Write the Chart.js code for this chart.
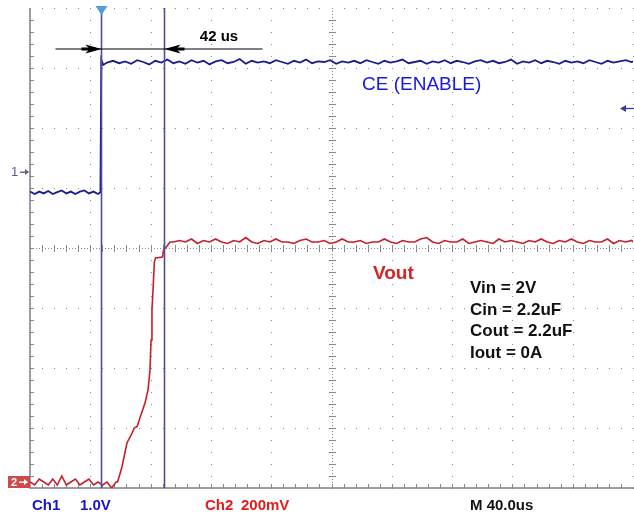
<!DOCTYPE html>
<html>
<head>
<meta charset="utf-8">
<script src="https://cdn.jsdelivr.net/npm/chart.js@4.4.0/dist/chart.umd.min.js"></script>
<style>
  html, body { margin: 0; padding: 0; background: #fff; }
  canvas { display: block; }
</style>
</head>
<body>
<canvas id="scope" width="634" height="517"></canvas>
<script>
// time base: 40 us/div, trigger (t = 0) at the first cursor
const timeMin = -47.1;
const timeMax = 352.9;
const cursorTimes = [0, 42];
const triggerLevel = 1.07;

// Ch1 = CE (ENABLE), 1.0 V/div
const ch1Time = [-47, -44, -41, -38, -35, -32, -29, -26, -23, -20, -17, -14, -11, -8, -5, -2, -0.4, 0.2, 1.5,
  4, 8, 12, 16, 20, 24, 28, 32, 36, 40, 44, 48, 52, 56, 60, 64, 68, 72, 76, 80, 84, 88, 92, 96, 100,
  104, 108, 112, 116, 120, 124, 128, 132, 136, 140, 144, 148, 152, 156, 160, 164, 168, 172, 176, 180,
  184, 188, 192, 196, 200, 204, 208, 212, 216, 220, 224, 228, 232, 236, 240, 244, 248, 252, 256, 260,
  264, 268, 272, 276, 280, 284, 288, 292, 296, 300, 304, 308, 312, 316, 320, 324, 328, 332, 336, 340,
  344, 348, 352, 353];
const ch1Volts = [-0.33, -0.37, -0.33, -0.36, -0.32, -0.37, -0.34, -0.31, -0.36, -0.33, -0.37, -0.33, -0.31, -0.36, -0.33, -0.37, -0.34, 1.87, 1.78,
  1.82, 1.85, 1.81, 1.84, 1.80, 1.86, 1.83, 1.79, 1.85, 1.82,
  1.87, 1.81, 1.84, 1.80, 1.86, 1.82, 1.85, 1.79, 1.84, 1.86,
  1.81, 1.83, 1.88, 1.80, 1.85, 1.82, 1.84, 1.81, 1.86, 1.83,
  1.80, 1.85, 1.82, 1.87, 1.81, 1.84, 1.83, 1.86, 1.80, 1.84,
  1.82, 1.85, 1.81, 1.86, 1.83, 1.80, 1.85, 1.82, 1.84, 1.87,
  1.81, 1.83, 1.85, 1.80, 1.84, 1.82, 1.86, 1.81, 1.85, 1.83,
  1.80, 1.84, 1.86, 1.82, 1.85, 1.81, 1.83, 1.87, 1.80, 1.84,
  1.82, 1.86, 1.81, 1.85, 1.83, 1.80, 1.85, 1.82, 1.84, 1.81,
  1.86, 1.83, 1.80, 1.85, 1.82, 1.84, 1.86, 1.83, 1.84];

// Ch2 = Vout, 200 mV/div
const ch2Time = [-47, -44, -41, -38, -35, -32, -29, -26, -23, -20, -17, -14, -11, -8, -5, -2, 1, 4, 7, 10,
  11, 13.9, 17.2, 20.6, 22, 24, 26, 29.2, 31.2, 32.5, 33.2, 33.8, 34.5, 35.4, 36.2, 40.8, 41.5, 43.8, 45.8,
  48, 52, 56, 60, 64, 68, 72, 76, 80, 84, 88, 92, 96, 100, 104, 108, 112, 116, 120, 124, 128, 132,
  136, 140, 144, 148, 152, 156, 160, 164, 168, 172, 176, 180, 184, 188, 192, 196, 200, 204, 208, 212,
  216, 220, 224, 228, 232, 236, 240, 244, 248, 252, 256, 260, 264, 268, 272, 276, 280, 284, 288, 292,
  296, 300, 304, 308, 312, 316, 320, 324, 328, 332, 336, 340, 344, 348, 352, 353];
const ch2Volts = [0.00, -0.01, 0.01, 0.00, -0.01, 0.01, -0.01, 0.02, -0.01, 0.00, 0.01, -0.01, 0.00, 0.01, -0.01, 0.00, -0.01, 0.00, -0.02, 0.00,
  0.00, 0.05, 0.13, 0.163, 0.18, 0.185, 0.217, 0.263, 0.307, 0.373, 0.473, 0.573, 0.64, 0.733, 0.747, 0.75, 0.773, 0.787, 0.80,
  0.80, 0.805, 0.80, 0.81, 0.795, 0.805, 0.80, 0.81, 0.80, 0.795,
  0.805, 0.80, 0.815, 0.80, 0.795, 0.805, 0.80, 0.81, 0.80, 0.80,
  0.795, 0.805, 0.81, 0.80, 0.80, 0.805, 0.795, 0.80, 0.81, 0.80,
  0.80, 0.805, 0.795, 0.80, 0.80, 0.81, 0.80, 0.795, 0.805, 0.80,
  0.80, 0.81, 0.815, 0.80, 0.795, 0.805, 0.80, 0.80, 0.81, 0.795,
  0.80, 0.805, 0.80, 0.795, 0.81, 0.80, 0.805, 0.80, 0.795, 0.805,
  0.80, 0.81, 0.80, 0.795, 0.805, 0.80, 0.81, 0.80, 0.795, 0.805,
  0.80, 0.80, 0.81, 0.795, 0.805, 0.80, 0.805, 0.80];

const conditions = ['Vin = 2V', 'Cin = 2.2uF', 'Cout = 2.2uF', 'Iout = 0A'];

const FONT = '"Liberation Sans", Arial, sans-serif';

function dotLine(ctx, x0, y0, x1, y1, step) {
    const len = Math.hypot(x1 - x0, y1 - y0);
    const n = Math.round(len / step);
    for (let i = 0; i <= n; i++) {
        const f = i / n;
        ctx.fillRect(Math.round(x0 + (x1 - x0) * f), Math.round(y0 + (y1 - y0) * f), 1, 1);
    }
}

const scopeScreen = {
    id: 'scopeScreen',
    beforeDatasetsDraw(chart) {
        const ctx = chart.ctx;
        const { left, right, top, bottom } = chart.chartArea;
        const xs = chart.scales.x;
        const ys = chart.scales.y1;
        const divW = (right - left) / 10;
        const divH = (bottom - top) / 8;
        ctx.save();

        // dotted graticule
        ctx.fillStyle = '#8a8a8a';
        for (let k = 1; k <= 10; k++) {
            const px = Math.round(xs.getPixelForValue(timeMin + 40 * k));
            if (k === 5) continue;
            dotLine(ctx, px, top, px, bottom, divH / 5);
        }
        for (let k = 0; k < 8; k++) {
            const py = Math.round(ys.getPixelForValue(ys.max - k));
            if (k === 4) continue;
            dotLine(ctx, left, py, right, py, divW / 5);
        }

        // centre cross with minor ticks
        const cx = Math.round(xs.getPixelForValue(timeMin + 200));
        const cy = Math.round(ys.getPixelForValue(ys.max - 4));
        ctx.fillStyle = '#8a8a8a';
        dotLine(ctx, cx, top, cx, bottom, divH / 20);
        dotLine(ctx, left, cy, right, cy, divW / 20);
        ctx.strokeStyle = '#8a8a8a';
        ctx.lineWidth = 1;
        ctx.beginPath();
        for (let i = 1; i < 50; i++) {
            const px = Math.round(left + i * divW / 5) + 0.5;
            ctx.moveTo(px, cy - 3); ctx.lineTo(px, cy + 4);
            ctx.moveTo(px, bottom - 4); ctx.lineTo(px, bottom);
        }
        for (let i = 1; i < 40; i++) {
            const py = Math.round(top + i * divH / 5) + 0.5;
            ctx.moveTo(cx - 3, py); ctx.lineTo(cx + 4, py);
            ctx.moveTo(left, py); ctx.lineTo(left + 4, py);
        }
        ctx.stroke();

        // solid frame left and bottom
        ctx.strokeStyle = '#7d7d86';
        ctx.lineWidth = 1.5;
        ctx.beginPath();
        ctx.moveTo(left, top); ctx.lineTo(left, bottom); ctx.lineTo(right + 1, bottom);
        ctx.stroke();
        ctx.restore();
    },
    afterDatasetsDraw(chart) {
        const ctx = chart.ctx;
        const { left, right, top, bottom } = chart.chartArea;
        const xs = chart.scales.x;
        const y1 = chart.scales.y1;
        const y2 = chart.scales.y2;
        ctx.save();

        // cursors
        ctx.strokeStyle = '#4e4e98';
        ctx.lineWidth = 1.6;
        const cpx = cursorTimes.map(t => Math.round(xs.getPixelForValue(t)) + 0.5);
        cpx.forEach(px => {
            ctx.beginPath();
            ctx.moveTo(px, top); ctx.lineTo(px, bottom);
            ctx.stroke();
        });

        // delta annotation
        const ay = 49;
        ctx.strokeStyle = '#000';
        ctx.lineWidth = 1.2;
        ctx.beginPath();
        ctx.moveTo(cpx[0] - 46, ay); ctx.lineTo(cpx[1] + 98, ay);
        ctx.stroke();
        ctx.fillStyle = '#000';
        [[cpx[0], 1], [cpx[1], -1]].forEach(([tip, dir]) => {
            ctx.beginPath();
            ctx.moveTo(tip, ay);
            ctx.lineTo(tip - dir * 16, ay - 4.5);
            ctx.lineTo(tip - dir * 12, ay);
            ctx.lineTo(tip - dir * 16, ay + 4.5);
            ctx.closePath();
            ctx.fill();
            ctx.fillRect(Math.min(tip - dir * 20, tip - dir * 6), ay - 1.5, 14, 3);
        });
        ctx.font = 'bold 15px ' + FONT;
        ctx.textAlign = 'center';
        ctx.textBaseline = 'alphabetic';
        ctx.fillText('42 us', (cpx[0] + cpx[1]) / 2 + 86, 41);

        // trigger position marker
        ctx.fillStyle = '#4f9fdc';
        ctx.beginPath();
        ctx.moveTo(cpx[0] - 6, 6); ctx.lineTo(cpx[0] + 6, 6); ctx.lineTo(cpx[0], 15);
        ctx.closePath();
        ctx.fill();

        // trigger level arrow on the right
        const ty = Math.round(y1.getPixelForValue(triggerLevel)) + 0.5;
        ctx.strokeStyle = '#3b3b9e';
        ctx.fillStyle = '#3b3b9e';
        ctx.lineWidth = 1.3;
        ctx.beginPath();
        ctx.moveTo(625, ty); ctx.lineTo(634, ty);
        ctx.stroke();
        ctx.beginPath();
        ctx.moveTo(620, ty); ctx.lineTo(626, ty - 3.5); ctx.lineTo(626, ty + 3.5);
        ctx.closePath();
        ctx.fill();

        // channel ground markers
        const g1 = Math.round(y1.getPixelForValue(0));
        ctx.fillStyle = '#5a5f86';
        ctx.font = '13px ' + FONT;
        ctx.textAlign = 'left';
        ctx.textBaseline = 'middle';
        ctx.fillText('1', 11, g1);
        ctx.fillRect(20, g1 - 0.5, 6, 1.4);
        ctx.beginPath();
        ctx.moveTo(29, g1); ctx.lineTo(25, g1 - 3); ctx.lineTo(25, g1 + 3);
        ctx.closePath();
        ctx.fill();

        const g2 = Math.round(y2.getPixelForValue(0));
        ctx.fillStyle = '#cf4a4a';
        ctx.fillRect(8, g2 - 6, 22, 12);
        ctx.fillStyle = '#fff';
        ctx.font = 'bold 11px ' + FONT;
        ctx.fillText('2', 11, g2 + 0.5);
        ctx.fillRect(19, g2 - 0.5, 6, 1.4);
        ctx.beginPath();
        ctx.moveTo(28, g2); ctx.lineTo(24, g2 - 3); ctx.lineTo(24, g2 + 3);
        ctx.closePath();
        ctx.fill();

        // trace labels
        ctx.textBaseline = 'alphabetic';
        ctx.fillStyle = '#1717e0';
        ctx.font = '19px ' + FONT;
        ctx.fillText('CE (ENABLE)', 362, 90);
        ctx.fillStyle = '#d42424';
        ctx.font = 'bold 19px ' + FONT;
        ctx.fillText('Vout', 373, 279);

        ctx.fillStyle = '#111';
        ctx.font = 'bold 17px ' + FONT;
        conditions.forEach((s, i) => ctx.fillText(s, 470, 293 + i * 21.7));

        // status line
        ctx.font = 'bold 15px ' + FONT;
        ctx.fillStyle = '#1515d0';
        ctx.fillText('Ch1', 32, 510);
        ctx.fillText('1.0V', 80, 510);
        ctx.fillStyle = '#e01c1c';
        ctx.fillText('Ch2', 205, 510);
        ctx.fillText('200mV', 241, 510);
        ctx.fillStyle = '#111';
        ctx.fillText('M 40.0us', 470, 510);
        ctx.restore();
    }
};

const ctx = document.getElementById('scope').getContext('2d');
new Chart(ctx, {
    type: 'line',
    data: {
        datasets: [{
            label: 'CE (ENABLE)',
            data: ch1Time.map((t, i) => ({ x: t, y: ch1Volts[i] })),
            borderColor: '#1b1b8f',
            borderWidth: 1.8,
            pointRadius: 0,
            tension: 0,
            yAxisID: 'y1'
        }, {
            label: 'Vout',
            data: ch2Time.map((t, i) => ({ x: t, y: ch2Volts[i] })),
            borderColor: '#c61f2b',
            borderWidth: 1.6,
            pointRadius: 0,
            tension: 0,
            yAxisID: 'y2'
        }]
    },
    options: {
        responsive: false,
        animation: false,
        layout: { padding: { left: 30, top: 8, right: 1, bottom: 29 } },
        plugins: {
            legend: { display: false },
            tooltip: { enabled: false }
        },
        scales: {
            x: { type: 'linear', display: false, min: timeMin, max: timeMax },
            y1: { type: 'linear', display: false, min: -5.27, max: 2.73 },
            y2: { type: 'linear', display: false, min: -0.02, max: 1.58 }
        }
    },
    plugins: [scopeScreen]
});
</script>
</body>
</html>
